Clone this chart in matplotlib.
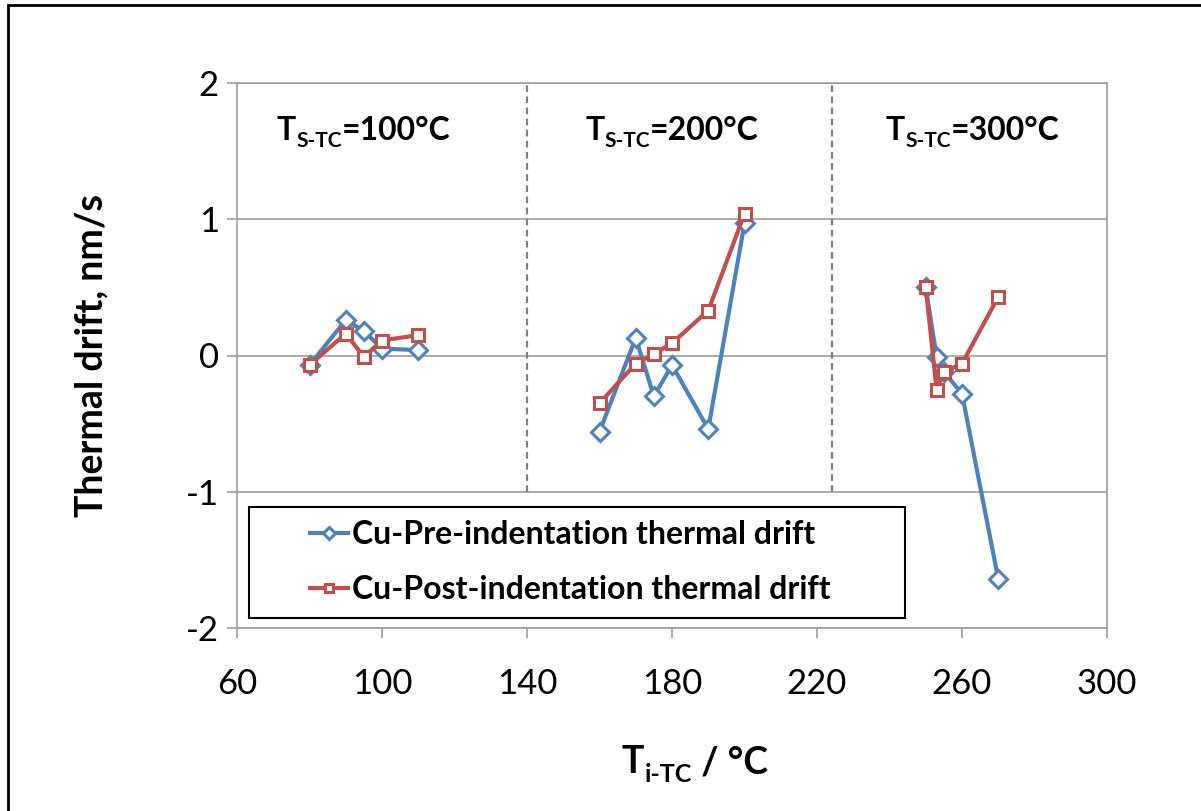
import numpy as np
import matplotlib
matplotlib.use("Agg")
import matplotlib.pyplot as plt
from matplotlib.patches import Rectangle

plt.rcParams['font.family'] = ['Lato', 'DejaVu Sans']
plt.rcParams['axes.unicode_minus'] = False

# Data (T_i-TC in degC, drift in nm/s)
temp_100 = [80, 90, 95, 100, 110]
pre_100 = [-0.07, 0.26, 0.18, 0.05, 0.04]
post_100 = [-0.07, 0.16, -0.01, 0.11, 0.15]

temp_200 = [160, 170, 175, 180, 190, 200]
pre_200 = [-0.56, 0.13, -0.30, -0.07, -0.54, 0.97]
post_200 = [-0.35, -0.06, 0.01, 0.09, 0.33, 1.04]

temp_300 = [250, 253, 255, 260, 270]
pre_300 = [0.50, -0.01, -0.12, -0.28, -1.64]
post_300 = [0.50, -0.25, -0.12, -0.06, 0.43]

group_labels = ["100", "200", "300"]
label_x = [71, 156, 239]        # left edge of group labels (data x)
divider_x = [140, 224]

x_ticks = [60, 100, 140, 180, 220, 260, 300]
y_ticks = [-2, -1, 0, 1, 2]

blue = '#4F81BD'
red = '#C0504D'
grid_col = '#A0A0A0'

W, H = 1201, 811
fig = plt.figure(figsize=(W / 100, H / 100), dpi=100)
ax = fig.add_axes([237 / W, 1 - 628 / H, (1107 - 237) / W, (628 - 83) / H])

# join groups with NaN gaps so each series is one line
def joined(*parts):
    out = []
    for i, p in enumerate(parts):
        if i:
            out.append(np.nan)
        out.extend(p)
    return np.array(out, dtype=float)

xs = joined(temp_100, temp_200, temp_300)
pre = joined(pre_100, pre_200, pre_300)
post = joined(post_100, post_200, post_300)

ax.plot(xs, pre, color=blue, lw=3, marker='D', ms=9, mfc='white',
        mec=blue, mew=2.2, label='Cu-Pre-indentation thermal drift', zorder=3)
ax.plot(xs, post, color=red, lw=3, marker='s', ms=9, mfc='white',
        mec=red, mew=2.2, label='Cu-Post-indentation thermal drift', zorder=4)

for xv in divider_x:
    ax.axvline(xv, ymin=0.25, ymax=1, color='#808080', ls=(0, (3, 2)), lw=1.6, zorder=2)

ax.set_xlim(60, 300)
ax.set_ylim(-2, 2)
ax.set_xticks(x_ticks)
ax.set_yticks(y_ticks)
ax.yaxis.grid(True, color=grid_col, lw=1.2)
ax.set_axisbelow(True)
for s in ax.spines.values():
    s.set_color(grid_col)
    s.set_linewidth(1.2)
ax.tick_params(axis='both', colors=grid_col, labelcolor='black', labelsize=25,
               direction='out', length=7, width=1.2)
ax.tick_params(axis='x', pad=22)
ax.tick_params(axis='y', pad=6)

ax.set_ylabel('Thermal drift, nm/s', fontsize=27, fontweight='bold', labelpad=56)

# group labels T_S-TC=xxx°C
for lx, g in zip(label_x, group_labels):
    t1 = ax.text(lx, 1.58, 'T', fontsize=23, fontweight='bold', va='baseline')
    t2 = ax.annotate('S-TC', xy=(1, 0), xycoords=t1, xytext=(0, -4),
                     textcoords='offset points', fontsize=15, fontweight='bold',
                     va='bottom')
    ax.annotate('=' + g + '°C', xy=(1, 0), xycoords=(t2, t1), fontsize=23,
                fontweight='bold', va='bottom')

# x axis label T_i-TC / °C
x1 = fig.text(622 / W, 1 - 773 / H, 'T', fontsize=27, fontweight='bold', va='baseline')
x2 = ax.annotate('i-TC', xy=(1, 0), xycoords=x1, xytext=(0, -5),
                 textcoords='offset points', fontsize=18, fontweight='bold', va='bottom')
ax.annotate(' / °C', xy=(1, 0), xycoords=(x2, x1), fontsize=27,
            fontweight='bold', va='bottom')

# legend box
frame = Rectangle((249 / W, 1 - 618 / H), (905 - 249) / W, (618 - 507) / H,
                  transform=fig.transFigure, fc='white', ec='black', lw=1.5,
                  zorder=5)
ax.add_artist(frame)
frame.set_clip_on(False)
leg = ax.legend(loc='upper left', bbox_to_anchor=(310 / W, 1 - 520 / H),
                bbox_transform=fig.transFigure, frameon=False, borderpad=0,
                borderaxespad=0, handlelength=1.2, handletextpad=0.12,
                labelspacing=0.82, prop={'size': 23, 'weight': 'bold'},
                markerscale=0.7)
leg.set_zorder(6)

# outer border
fig.patches.append(Rectangle((8 / W, -0.1), 1.2, 1 - 5 / H + 0.1,
                             transform=fig.transFigure, fill=False,
                             ec='black', lw=2, clip_on=False))

fig.savefig('out.png', dpi=100)
